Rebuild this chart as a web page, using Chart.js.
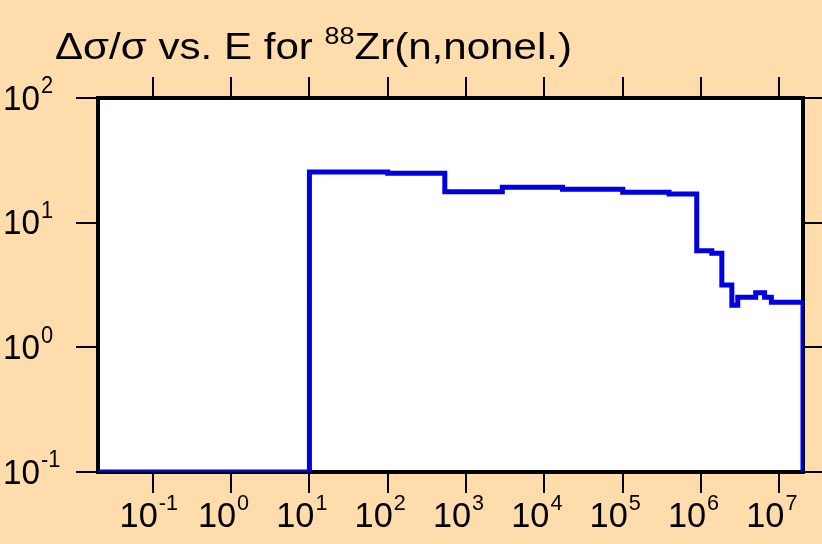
<!DOCTYPE html>
<html>
<head>
<meta charset="utf-8">
<script src="https://cdn.jsdelivr.net/npm/chart.js@4.4.1/dist/chart.umd.min.js"></script>
<style>
  html, body { margin: 0; padding: 0; background: #fedcab; }
  #wrap { width: 822px; height: 544px; }
</style>
</head>
<body>
<div id="wrap"><canvas id="uncChart" width="822" height="544"></canvas></div>
<script>
/* Relative uncertainty of the 88Zr(n,nonel.) cross section vs. incident energy.
   Step histogram: each value holds from its energy edge up to the next edge. */

const energyEdges = [0.02, 10, 100, 535, 2900, 17000, 1.0e5, 3.9e5, 8.8e5, 1.37e6, 1.84e6, 2.47e6, 2.94e6, 4.98e6, 6.47e6, 7.9e6, 2.0e7];
const relUnc      = [0.1, 25.5, 24.9, 17.7, 19.2, 18.5, 17.5, 17.0, 5.96, 5.68, 3.16, 2.18, 2.52, 2.74, 2.52, 2.30, 0.1];

const xTickExps = [-1, 0, 1, 2, 3, 4, 5, 6, 7];
const yTickExps = [-1, 0, 1, 2];

const BG = "#fedcab";
const FONT = '"Liberation Sans", Arial, sans-serif';

// "10" with a raised exponent; x is where base ends and exponent starts
function drawPow(ctx, x, yMid, exp, baseSize, supSize, sx, supRise) {
  ctx.save();
  ctx.translate(x, yMid);
  ctx.scale(sx, 1);
  ctx.font = baseSize + "px " + FONT;
  ctx.textBaseline = "middle";
  ctx.textAlign = "right";
  ctx.fillText("10", 0, 0);
  ctx.font = supSize + "px " + FONT;
  ctx.textAlign = "left";
  ctx.fillText(String(exp), 1, -supRise);
  ctx.restore();
}

const framePlugin = {
  id: "frame",
  beforeDraw(chart) {
    const { ctx, chartArea: a } = chart;
    ctx.save();
    ctx.fillStyle = BG;
    ctx.fillRect(0, 0, chart.width, chart.height);
    ctx.fillStyle = "#fff";
    ctx.fillRect(a.left, a.top, a.right - a.left, a.bottom - a.top);
    ctx.restore();
  },
  beforeDatasetsDraw(chart) {
    const { ctx, chartArea: a, scales } = chart;
    ctx.save();
    ctx.strokeStyle = "#000";
    ctx.lineWidth = 2;
    ctx.beginPath();
    xTickExps.forEach(e => {
      const px = Math.round(scales.x.getPixelForValue(Math.pow(10, e)));
      ctx.moveTo(px, a.bottom); ctx.lineTo(px, a.bottom + 21);
      ctx.moveTo(px, a.top); ctx.lineTo(px, a.top - 21);
    });
    yTickExps.forEach(e => {
      const py = Math.round(scales.y.getPixelForValue(Math.pow(10, e)));
      ctx.moveTo(a.left, py); ctx.lineTo(a.left - 22, py);
      ctx.moveTo(a.right, py); ctx.lineTo(chart.width, py);
    });
    ctx.stroke();
    ctx.lineWidth = 4;
    ctx.strokeRect(a.left, a.top, a.right - a.left, a.bottom - a.top);
    ctx.restore();
  },
  afterDraw(chart) {
    const { ctx, chartArea: a, scales } = chart;
    ctx.save();
    ctx.fillStyle = "#000";
    xTickExps.forEach(e => {
      const px = scales.x.getPixelForValue(Math.pow(10, e));
      drawPow(ctx, px + 5, a.bottom + 45, e, 35, 22, 0.98, 13);
    });
    yTickExps.forEach(e => {
      const py = scales.y.getPixelForValue(Math.pow(10, e));
      drawPow(ctx, 40, py + 2, e, 35, 23, 0.95, 13);
    });

    // title with superscript mass number, stretched to the reference width
    const part1 = "\u0394\u03c3/\u03c3 vs. E for ", sup = "88", part2 = "Zr(n,nonel.)";
    ctx.textBaseline = "alphabetic";
    ctx.textAlign = "left";
    ctx.font = "36px " + FONT;
    const w1 = ctx.measureText(part1).width, w3 = ctx.measureText(part2).width;
    ctx.font = "23px " + FONT;
    const w2 = ctx.measureText(sup).width;
    const sx = 517 / (w1 + w2 + w3);
    ctx.translate(55, 59);
    ctx.scale(sx, 1);
    ctx.font = "36px " + FONT;
    ctx.fillText(part1, 0, 0);
    ctx.font = "23px " + FONT;
    ctx.fillText(sup, w1, -15);
    ctx.font = "36px " + FONT;
    ctx.fillText(part2, w1 + w2, 0);
    ctx.restore();
  }
};

new Chart(document.getElementById("uncChart"), {
  type: "line",
  data: {
    datasets: [{
      data: energyEdges.map((e, i) => ({ x: e, y: relUnc[i] })),
      stepped: "before",
      borderColor: "#0000e0",
      borderWidth: 5,
      pointRadius: 0,
      fill: false,
    }]
  },
  options: {
    responsive: false,
    animation: false,
    events: [],
    layout: { padding: { left: 98, top: 98, right: 19, bottom: 72 } },
    scales: {
      x: { type: "logarithmic", min: 0.02, max: 2.0e7, display: false },
      y: { type: "logarithmic", min: 0.1, max: 100, display: false }
    },
    plugins: { legend: { display: false }, tooltip: { enabled: false } }
  },
  plugins: [framePlugin]
});
</script>
</body>
</html>
